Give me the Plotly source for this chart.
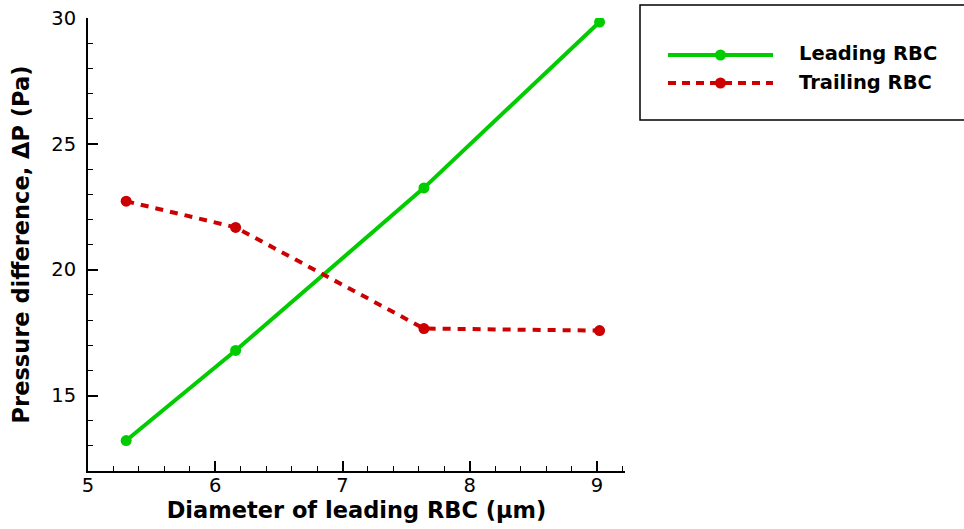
import plotly.graph_objects as go

diameter = [5.30, 6.16, 7.64, 9.02]
leading = [13.21, 16.79, 23.25, 29.84]
trailing = [22.72, 21.68, 17.66, 17.58]
series_names = ["Leading RBC", "Trailing RBC"]
green = "#00CC00"
red = "#CC0000"
FONT = "DejaVu Sans, Arial, sans-serif"

fig = go.Figure()
fig.add_trace(go.Scatter(x=diameter, y=leading, mode="lines+markers", name=series_names[0],
                         line=dict(color=green, width=4), marker=dict(size=11, color=green),
                         showlegend=False))
fig.add_trace(go.Scatter(x=diameter, y=trailing, mode="lines+markers", name=series_names[1],
                         line=dict(color=red, width=4, dash="8px,7px"), marker=dict(size=11, color=red),
                         showlegend=False))

fig.update_layout(
    width=964, height=529,
    margin=dict(l=88, r=339, t=18, b=58),
    plot_bgcolor="white", paper_bgcolor="white",
    font=dict(family=FONT, color="black"),
)
fig.update_xaxes(
    range=[5, 9.22], tickvals=[5, 6, 7, 8, 9], showgrid=False, zeroline=False, automargin=False,
    showline=True, linecolor="black", linewidth=2,
    ticks="inside", ticklen=10, tickwidth=1.5, tickcolor="black",
    minor=dict(dtick=0.2, ticks="inside", ticklen=5, tickwidth=1, tickcolor="black", showgrid=False),
    tickfont=dict(size=19.5), ticklabelstandoff=-4,
    title=dict(text="<b>Diameter of leading RBC (μm)</b>", font=dict(size=22.5), standoff=2),
)
fig.update_yaxes(
    range=[12, 30], tickvals=[15, 20, 25, 30], showgrid=False, zeroline=False, automargin=False,
    showline=True, linecolor="black", linewidth=2,
    ticks="inside", ticklen=10, tickwidth=1.5, tickcolor="black",
    minor=dict(dtick=1, ticks="inside", ticklen=5, tickwidth=1, tickcolor="black", showgrid=False),
    tickfont=dict(size=19.5), ticklabelstandoff=6,
    title=dict(text="<b>Pressure difference, ΔP (Pa)</b>", font=dict(size=22.5), standoff=15),
)

# legend box drawn manually
fig.add_shape(type="rect", xref="paper", yref="paper",
              x0=(640-88)/537, x1=(966-88)/537, y0=(471-120)/453, y1=(471-5)/453,
              line=dict(color="black", width=1.5), fillcolor="white")
rows = [(55, green, "solid"), (83, red, "8px,6px")]
for (ypix, col, dash), name in zip(rows, series_names):
    yp = (471 - ypix) / 453
    fig.add_shape(type="line", xref="paper", yref="paper",
                  x0=(668-88)/537, x1=(773-88)/537, y0=yp, y1=yp,
                  line=dict(color=col, width=4, dash=dash))
    fig.add_shape(type="circle", xref="paper", yref="paper",
                  x0=(720.5-88-5.5)/537, x1=(720.5-88+5.5)/537,
                  y0=yp-5.5/453, y1=yp+5.5/453, line=dict(color=col, width=0), fillcolor=col)
    fig.add_annotation(xref="paper", yref="paper", x=(797-88)/537, y=(471 - ypix + 1) / 453,
                       text="<b>" + name + "</b>",
                       showarrow=False, xanchor="left", yanchor="middle",
                       font=dict(size=19.5, color="black"))

fig.write_html("out.html")
